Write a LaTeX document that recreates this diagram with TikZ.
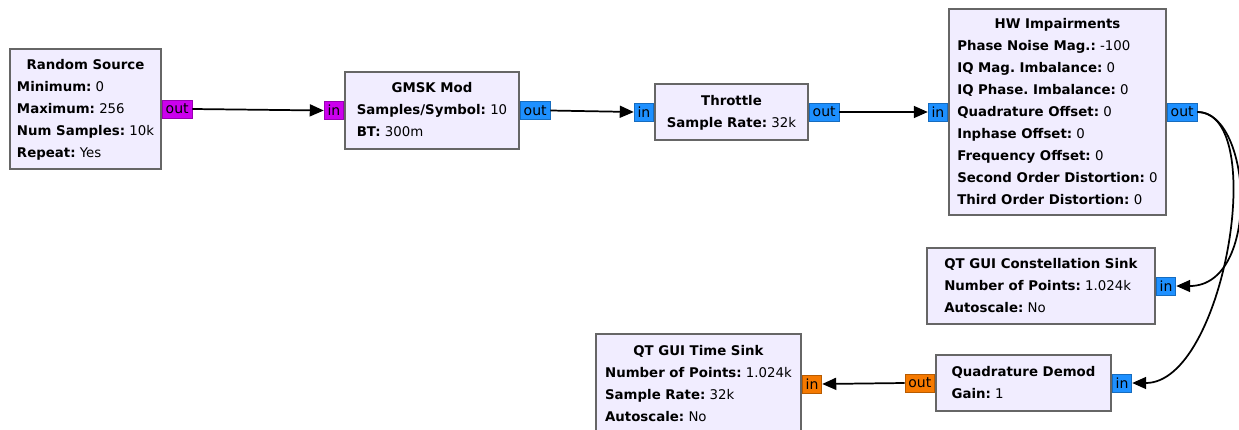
\documentclass[tikz,border=0pt]{standalone}
\usepackage{fontspec}
\setmainfont{DejaVu Sans}
\usepackage{tikz}
\usetikzlibrary{positioning}
\usetikzlibrary{arrows.meta}
\usepackage{xcolor}
\definecolor{blockfill}{RGB}{241,237,255}
\definecolor{blockline}{RGB}{102,102,102}
\definecolor{bytecol}{RGB}{204,0,238}
\definecolor{cpxcol}{RGB}{30,144,255}
\definecolor{fltcol}{RGB}{245,121,0}
\frenchspacing

\begin{document}
\begin{tikzpicture}[
  x=0.75pt, y=-0.75pt,
  font=\fontsize{10}{16.5}\selectfont,
  block/.style={draw=blockline, line width=1.5pt, fill=blockfill, anchor=north west, inner sep=0pt, align=center},
  port/.style={draw=#1!75!black, line width=0.6pt, fill=#1, inner xsep=2.5pt, inner ysep=0pt, minimum height=13.5pt, font=\fontsize{10.5}{12}\selectfont},
  arrow/.style={-{Triangle[length=10.5pt, width=9pt]}, line width=1.3pt},
]
\useasboundingbox (0,0) rectangle (1239,429);

\node[block, minimum width=113.25pt, minimum height=90pt] (rs) at (9,48)
{\begin{tabular}{@{}l@{}}\multicolumn{1}{@{}c@{}}{\textbf{Random Source}}\\
\textbf{Minimum:} 0\\ \textbf{Maximum:} 256\\ \textbf{Num Samples:} 10k\\ \textbf{Repeat:} Yes\end{tabular}};
\node[block, minimum width=130.5pt, minimum height=57.75pt] (gmsk) at (344,71)
{\begin{tabular}{@{}l@{}}\multicolumn{1}{@{}c@{}}{\textbf{GMSK Mod}}\\
\textbf{Samples/Symbol:} 10\\ \textbf{BT:} 300m\end{tabular}};
\node[block, minimum width=114.75pt, minimum height=42pt] (thr) at (654,83)
{\begin{tabular}{@{}l@{}}\multicolumn{1}{@{}c@{}}{\textbf{Throttle}}\\
\textbf{Sample Rate:} 32k\end{tabular}};
\node[block, minimum width=162.75pt, minimum height=154.5pt] (hw) at (948,8)
{\begin{tabular}{@{}l@{}}\multicolumn{1}{@{}c@{}}{\textbf{HW Impairments}}\\
\textbf{Phase Noise Mag.:} -100\\ \textbf{IQ Mag. Imbalance:} 0\\ \textbf{IQ Phase. Imbalance:} 0\\
\textbf{Quadrature Offset:} 0\\ \textbf{Inphase Offset:} 0\\ \textbf{Frequency Offset:} 0\\
\textbf{Second Order Distortion:} 0\\ \textbf{Third Order Distortion:} 0\end{tabular}};

% sinks, flipped
\node[block, minimum width=171pt, minimum height=57pt] (cons) at (926,247)
{\begin{tabular}{@{}l@{}}\multicolumn{1}{@{}c@{}}{\textbf{QT GUI Constellation Sink}}\\
\textbf{Number of Points:} 1.024k\\ \textbf{Autoscale:} No\end{tabular}};
\node[block, minimum width=131.25pt, minimum height=42pt] (demod) at (935,354)
{\begin{tabular}{@{}l@{}}\multicolumn{1}{@{}c@{}}{\textbf{Quadrature Demod}}\\
\textbf{Gain:} 1\end{tabular}};
\node[block, minimum width=153.75pt, minimum height=75pt] (tsink) at (595,333)
{\begin{tabular}{@{}l@{}}\multicolumn{1}{@{}c@{}}{\textbf{QT GUI Time Sink}}\\
\textbf{Number of Points:} 1.024k\\ \textbf{Sample Rate:} 32k\\ \textbf{Autoscale:} No\end{tabular}};

\node[port=bytecol, anchor=west] (rs-out) at (rs.east) {out};
\node[port=bytecol, anchor=east] (gmsk-in) at (gmsk.west) {in};
\node[port=cpxcol, anchor=west] (gmsk-out) at (gmsk.east) {out};
\node[port=cpxcol, anchor=east] (thr-in) at (thr.west) {in};
\node[port=cpxcol, anchor=west] (thr-out) at (thr.east) {out};
\node[port=cpxcol, anchor=east] (hw-in) at (hw.west) {in};
\node[port=cpxcol, anchor=west] (hw-out) at (hw.east) {out};
\node[port=cpxcol, anchor=west] (cons-in) at (cons.east) {in};
\node[port=cpxcol, anchor=west] (demod-in) at (demod.east) {in};
\node[port=fltcol, anchor=east] (demod-out) at (demod.west) {out};
\node[port=fltcol, anchor=west] (tsink-in) at (tsink.east) {in};

\draw[arrow] (rs-out.east) -- (gmsk-in.west);
\draw[arrow] (gmsk-out.east) -- (thr-in.west);
\draw[arrow] (thr-out.east) -- (hw-in.west);
\draw[arrow] (hw-out.east) .. controls +(55,0) and +(85,0) .. (cons-in.east);
\draw[arrow] (hw-out.east) .. controls +(72,0) and +(92,0) .. (demod-in.east);
\draw[arrow] (demod-out.west) -- (tsink-in.east);

\end{tikzpicture}
\end{document}
